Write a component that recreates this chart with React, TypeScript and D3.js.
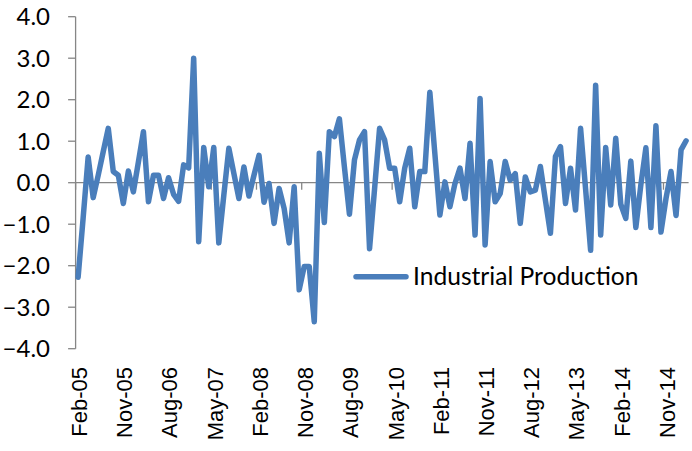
import React from "react";
import * as d3 from "d3";

const SERIES_NAME = "Industrial Production";
const START_LABEL = "Feb-05";
// monthly values, Feb-05 .. Mar-15
const values: number[] = [
  -2.28, -0.85, 0.62, -0.36, 0.18, 0.75, 1.31, 0.27, 0.18, -0.5,
  0.28, -0.22, 0.5, 1.23, -0.46, 0.18, 0.18, -0.38, 0.12, -0.28,
  -0.45, 0.43, 0.36, 3.0, -1.42, 0.85, -0.1, 0.85, -1.45, -0.3,
  0.83, 0.22, -0.38, 0.38, -0.32, 0.18, 0.66, -0.47, -0.02, -0.98,
  -0.14, -0.62, -1.45, -0.1, -2.58, -2.02, -2.02, -3.35, 0.71, -0.96,
  1.23, 1.11, 1.54, 0.38, -0.76, 0.55, 1.03, 1.23, -1.59, -0.15,
  1.31, 1.03, 0.35, 0.35, -0.46, 0.35, 0.83, -0.58, 0.27, 0.27,
  2.18, 0.7, -0.78, 0.02, -0.58, -0.02, 0.35, -0.38, 0.95, -1.26,
  2.03, -1.5, 0.51, -0.46, -0.26, 0.51, 0.06, 0.22, -0.98, 0.14,
  -0.22, -0.18, 0.39, -0.42, -1.22, 0.63, 0.87, -0.5, 0.35, -0.66,
  1.31, -0.15, -1.63, 2.35, -1.26, 0.85, -0.54, 1.07, -0.52, -0.86,
  0.52, -1.08, -0.05, 0.84, -1.08, 1.37, -1.19, -0.38, 0.27, -0.79,
  0.79, 1.01,
];
const xTickLabels = [
  "Feb-05", "Nov-05", "Aug-06", "May-07", "Feb-08", "Nov-08", "Aug-09",
  "May-10", "Feb-11", "Nov-11", "Aug-12", "May-13", "Feb-14", "Nov-14",
];
const xTickStep = 9; // months between labels
const yTicks = [-4, -3, -2, -1, 0, 1, 2, 3, 4];

const W = 692;
const H = 451;
const BLUE = "#4a7ebb";
const AXIS = "#868686";

export default function App() {
  const n = values.length;
  const x = d3.scaleLinear().domain([-0.5, n - 0.5]).range([75.6, 688.6]);
  const y = d3.scaleLinear().domain([-4, 4]).range([348.7, 16.7]);
  const line = d3
    .line<number>()
    .x((_, i) => x(i))
    .y((d) => y(d));
  const boundaries = d3.range(0, n, xTickStep).map((i) => i - 0.5);
  const calFont = "Lato, 'Open Sans', sans-serif";
  return (
    <svg
      width={W}
      height={H}
      style={{ position: "absolute", left: 0, top: 0, background: "#fff" }}
    >
      {/* y axis */}
      <line x1={x(-0.5)} x2={x(-0.5)} y1={y(4)} y2={y(-4)} stroke={AXIS} strokeWidth={1.3} />
      {yTicks.map((t) => (
        <g key={t}>
          <line x1={x(-0.5) - 7.5} x2={x(-0.5)} y1={y(t)} y2={y(t)} stroke={AXIS} strokeWidth={1.3} />
          <text
            x={50}
            y={y(t)}
            dy="0.36em"
            textAnchor="end"
            fontFamily={calFont}
            fontSize={24}
            fill="#000"
          >
            {d3.format(".1f")(t)}
          </text>
        </g>
      ))}
      {/* x axis at zero */}
      <line x1={x(-0.5)} x2={x(n - 0.5)} y1={y(0)} y2={y(0)} stroke={AXIS} strokeWidth={1.3} />
      {boundaries.map((b) => (
        <line key={b} x1={x(b)} x2={x(b)} y1={y(0)} y2={y(0) + 7} stroke={AXIS} strokeWidth={1.3} />
      ))}
      {xTickLabels.map((lab, k) => {
        const cx = x(k * xTickStep) + 1;
        return (
          <text
            key={lab}
            transform={`translate(${cx},367) rotate(-90)`}
            dy="0.36em"
            textAnchor="end"
            fontFamily="'Liberation Sans', Arial, sans-serif"
            fontSize={22}
            fill="#000"
          >
            {lab}
          </text>
        );
      })}
      {/* series */}
      <path
        d={line(values) || ""}
        fill="none"
        stroke={BLUE}
        strokeWidth={5.5}
        strokeLinejoin="round"
        strokeLinecap="round"
      />
      {/* legend */}
      <line x1={356} x2={406} y1={276.7} y2={276.7} stroke={BLUE} strokeWidth={5.5} strokeLinecap="round" />
      <text x={413} y={285} fontFamily={calFont} fontSize={24.6} fill="#000">
        {SERIES_NAME}
      </text>
      <desc>{START_LABEL}</desc>
    </svg>
  );
}
